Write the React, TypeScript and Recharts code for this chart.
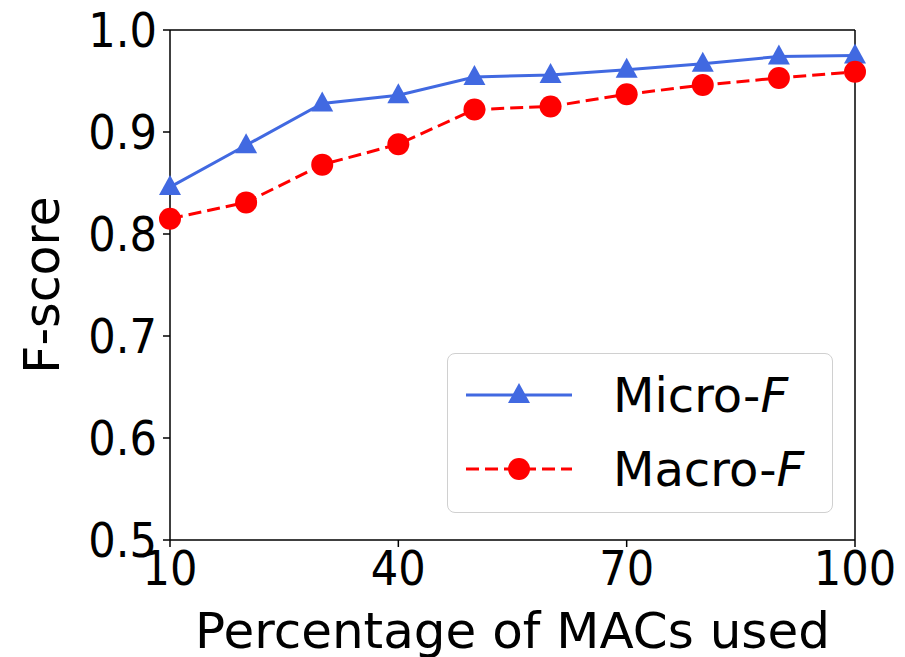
import { LineChart, Line, XAxis, YAxis, ReferenceLine } from "recharts";

// Valores
const percentages = [10, 20, 30, 40, 50, 60, 70, 80, 90, 100];
const microF = [0.846, 0.887, 0.928, 0.936, 0.954, 0.956, 0.961, 0.967, 0.974, 0.975];
const macroF = [0.815, 0.831, 0.868, 0.888, 0.922, 0.925, 0.937, 0.946, 0.953, 0.959];
const xTicks = [10, 40, 70, 100];
const yTicks = [0.5, 0.6, 0.7, 0.8, 0.9, 1.0];

const data = percentages.map((p, i) => ({ pct: p, micro: microF[i], macro: macroF[i] }));

// Las marcas de los ejes van algo más estrechas que los títulos en el original
const TICK_FONT = "'DejaVu Sans Condensed', 'DejaVu Sans', sans-serif";
const LABEL_FONT = "'DejaVu Sans', sans-serif";
const BLUE = "#4169e1";
const RED = "#ff0000";
const DASH = "13 6";

function Triangle(props: any) {
  const { cx, cy, index } = props;
  if (cx == null || cy == null) return <g key={index} />;
  return (
    <polygon
      key={index}
      points={`${cx},${cy - 12} ${cx - 11},${cy + 8} ${cx + 11},${cy + 8}`}
      fill={BLUE}
    />
  );
}

function Dot(props: any) {
  const { cx, cy, index } = props;
  if (cx == null || cy == null) return <g key={index} />;
  return <circle key={index} cx={cx} cy={cy} r={11} fill={RED} />;
}

// Leyenda dibujada aparte: el <Legend> de recharts reserva espacio y encoge el área
function LegendBox() {
  const row = (label: string, color: string, dashed: boolean, marker: "tri" | "dot") => (
    <div style={{ display: "flex", alignItems: "center", height: 74 }}>
      <svg width={150} height={40} style={{ flex: "none" }}>
        <line
          x1={18}
          x2={124}
          y1={20}
          y2={20}
          stroke={color}
          strokeWidth={3}
          strokeDasharray={dashed ? DASH : undefined}
        />
        {marker === "tri" ? (
          <polygon points="71,8 60,28 82,28" fill={color} />
        ) : (
          <circle cx={71} cy={20} r={11} fill={color} />
        )}
      </svg>
      <span style={{ fontFamily: LABEL_FONT, fontSize: 48, color: "#000", marginLeft: 15 }}>
        {label}-<i>F</i>
      </span>
    </div>
  );
  return (
    <div
      style={{
        position: "absolute",
        left: 447,
        top: 353,
        width: 386,
        height: 160,
        boxSizing: "border-box",
        border: "1.5px solid #d0d0d0",
        borderRadius: 8,
        background: "rgba(255,255,255,0.85)",
        paddingTop: 4,
      }}
    >
      {row("Micro", BLUE, false, "tri")}
      {row("Macro", RED, true, "dot")}
    </div>
  );
}

export default function App() {
  return (
    <div style={{ position: "absolute", left: 0, top: 0, width: 905, height: 657, background: "#fff" }}>
      <LineChart
        width={905}
        height={657}
        data={data}
        margin={{ top: 30, right: 50, bottom: 0, left: 0 }}
      >
        <XAxis
          dataKey="pct"
          type="number"
          domain={[10, 100]}
          ticks={xTicks}
          height={117}
          tickSize={7}
          tickMargin={4}
          stroke="#000"
          strokeWidth={1.5}
          tick={{ fill: "#000", fontSize: 48, fontFamily: TICK_FONT }}
          label={{
            value: "Percentage of MACs used",
            position: "insideBottom",
            offset: 9,
            fill: "#000",
            fontSize: 50,
            fontFamily: LABEL_FONT,
          }}
        />
        <YAxis
          type="number"
          domain={[0.5, 1.0]}
          ticks={yTicks}
          width={170}
          tickSize={7}
          tickMargin={6}
          stroke="#000"
          strokeWidth={1.5}
          tickFormatter={(v: number) => v.toFixed(1)}
          tick={{ fill: "#000", fontSize: 48, fontFamily: TICK_FONT }}
          label={{
            content: (p: any) => {
              const vb = p.viewBox || {};
              const cy = vb.y + vb.height / 2;
              return (
                <text
                  x={42}
                  y={cy}
                  transform={`rotate(-90, 42, ${cy})`}
                  textAnchor="middle"
                  dominantBaseline="central"
                  fill="#000"
                  fontSize={49}
                  fontFamily={LABEL_FONT}
                >
                  F-score
                </text>
              );
            },
          }}
        />
        <ReferenceLine y={1.0} stroke="#000" strokeWidth={1.5} ifOverflow="visible" />
        <ReferenceLine x={100} stroke="#000" strokeWidth={1.5} ifOverflow="visible" />
        <Line
          dataKey="micro"
          stroke={BLUE}
          strokeWidth={3}
          dot={Triangle}
          activeDot={false}
          isAnimationActive={false}
        />
        <Line
          dataKey="macro"
          stroke={RED}
          strokeWidth={3}
          strokeDasharray={DASH}
          dot={Dot}
          activeDot={false}
          isAnimationActive={false}
        />
      </LineChart>
      <LegendBox />
    </div>
  );
}
